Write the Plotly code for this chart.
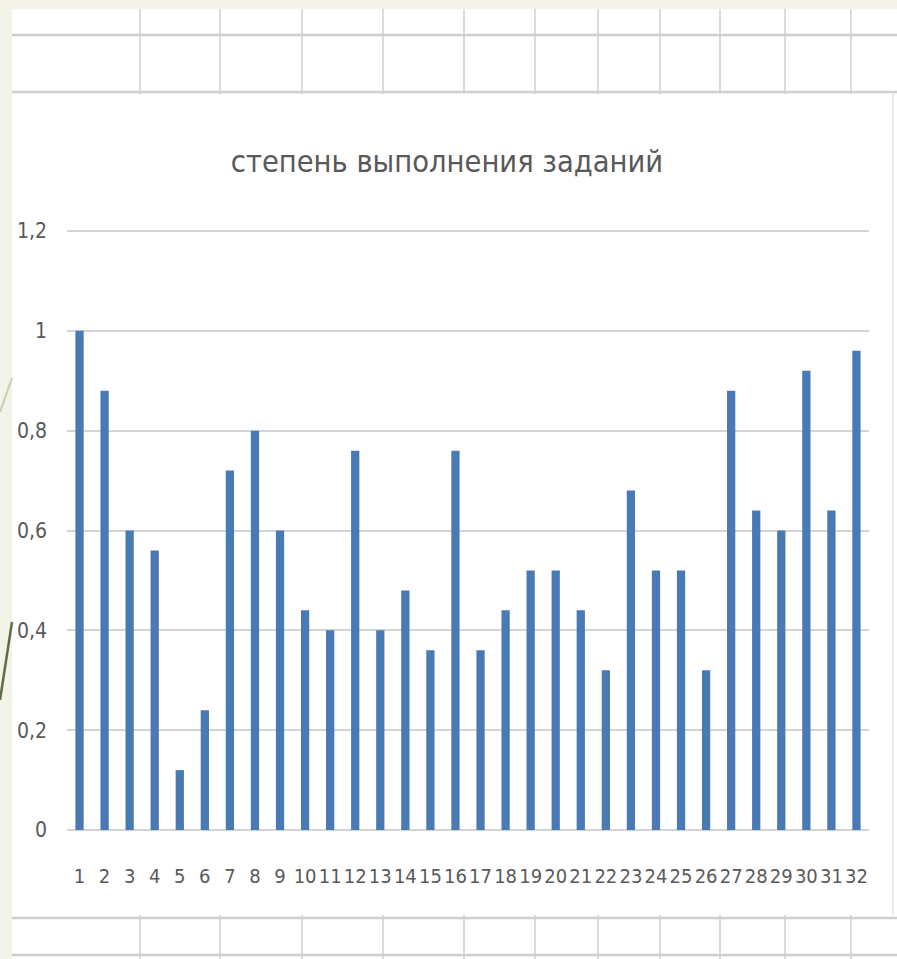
import plotly.graph_objects as go

categories = list(range(1, 33))
values = [1.00, 0.88, 0.60, 0.56, 0.12, 0.24, 0.72, 0.80, 0.60, 0.44,
          0.40, 0.76, 0.40, 0.48, 0.36, 0.76, 0.36, 0.44, 0.52, 0.52,
          0.44, 0.32, 0.68, 0.52, 0.52, 0.32, 0.88, 0.64, 0.60, 0.92,
          0.64, 0.96]
y_ticks = [0, 0.2, 0.4, 0.6, 0.8, 1.0, 1.2]
title_text = "степень выполнения заданий"

W, H = 897, 959
Y_MAX = 1.204
L, R, B = 67, 869, 830
T = B - 599 * Y_MAX / 1.2  # so that 1.2 sits at y=231


def px(x):
    return (x - L) / (R - L)


def py(y):
    return (B - y) / (B - T)


FONT = "DejaVu Sans Condensed, DejaVu Sans, sans-serif"
GRID = "#d4d4d4"
SHEET = "#cfcfcf"

fig = go.Figure(go.Bar(
    x=categories, y=values, width=0.33,
    marker=dict(color="#4a7ab4", line=dict(width=0)),
))

shapes = []
shapes.append(dict(type="rect", xref="paper", yref="paper", layer="below",
                   x0=px(12), x1=px(W + 5), y0=py(9), y1=py(H + 5),
                   fillcolor="white", line=dict(width=0)))
for yy in [35, 92, 918, 955]:
    shapes.append(dict(type="line", xref="paper", yref="paper", layer="below",
                       x0=px(12), x1=px(W + 5), y0=py(yy), y1=py(yy),
                       line=dict(color=SHEET, width=2.5)))
for xx in [140, 220, 302, 383, 464, 535, 598, 660, 720, 785, 851]:
    shapes.append(dict(type="line", xref="paper", yref="paper", layer="below",
                       x0=px(xx), x1=px(xx), y0=py(9), y1=py(94),
                       line=dict(color=SHEET, width=1.5)))
    shapes.append(dict(type="line", xref="paper", yref="paper", layer="below",
                       x0=px(xx), x1=px(xx), y0=py(915), y1=py(H + 5),
                       line=dict(color=SHEET, width=1.5)))
shapes.append(dict(type="rect", xref="paper", yref="paper", layer="below",
                   x0=px(12), x1=px(893), y0=py(94), y1=py(915),
                   fillcolor="white", line=dict(width=0)))
shapes.append(dict(type="line", xref="paper", yref="paper", layer="below",
                   x0=px(893), x1=px(893), y0=py(94), y1=py(915),
                   line=dict(color="#e2e2e2", width=1.5)))
shapes.append(dict(type="line", xref="paper", yref="paper", layer="below",
                   x0=px(0), x1=px(12), y0=py(412), y1=py(378),
                   line=dict(color="#c9cdb8", width=2)))
shapes.append(dict(type="line", xref="paper", yref="paper", layer="below",
                   x0=px(0), x1=px(12), y0=py(700), y1=py(622),
                   line=dict(color="#5b6e45", width=2.5)))

fig.update_layout(
    width=W, height=H,
    margin=dict(l=L, r=W - R, t=T, b=H - B),
    paper_bgcolor="#f4f3e8",
    plot_bgcolor="rgba(0,0,0,0)",
    separators=", ",
    showlegend=False,
    shapes=shapes,
    title=dict(text=title_text, x=447 / W, xanchor="center",
               y=1 - 161 / H, yanchor="middle",
               font=dict(family=FONT, size=30.5, color="#595959")),
    font=dict(family=FONT, color="#595959"),
)
fig.update_xaxes(
    range=[0.5, 32.5], tickmode="array", tickvals=categories,
    ticktext=[str(c) for c in categories], tickangle=0,
    tickfont=dict(size=20, color="#595959"),
    showgrid=False, showline=False, zeroline=False, ticks="",
    ticklabelstandoff=32,
)
fig.update_yaxes(
    range=[0, Y_MAX], tickmode="array", tickvals=y_ticks,
    tickfont=dict(size=21, color="#595959"),
    showgrid=True, gridcolor=GRID, gridwidth=2,
    zeroline=True, zerolinecolor=GRID, zerolinewidth=2,
    showline=False, ticks="", ticklabelstandoff=19,
)

fig.write_html("out.html", config={"displayModeBar": False},
               post_script="document.body.style.margin='0';")
